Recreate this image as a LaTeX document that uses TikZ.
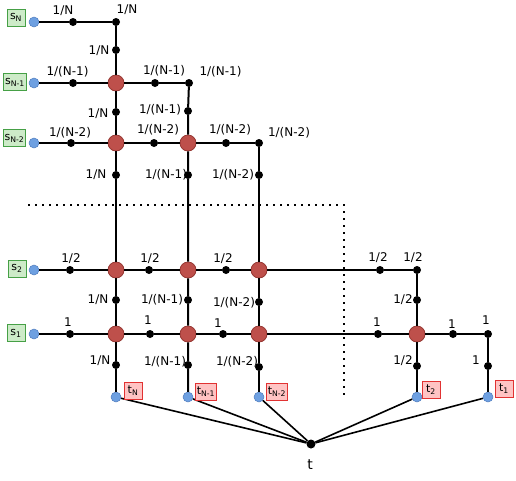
\documentclass[tikz,border=0pt]{standalone}
\usepackage{fontspec}
\setmainfont{DejaVu Sans}
\definecolor{nodered}{RGB}{190,80,75}
\definecolor{noderedb}{RGB}{150,55,50}
\definecolor{nodeblue}{RGB}{110,160,225}
\definecolor{nodeblueb}{RGB}{80,125,190}
\definecolor{gfill}{RGB}{205,235,200}
\definecolor{gdraw}{RGB}{70,160,70}
\definecolor{rfill}{RGB}{255,195,195}
\definecolor{rdraw}{RGB}{225,50,50}
\begin{document}
\begin{tikzpicture}[x=1pt,y=-1pt,
  blk/.style={circle,fill=black,inner sep=0pt,minimum size=8pt},
  rednode/.style={circle,fill=nodered,draw=noderedb,line width=0.8pt,inner sep=0pt,minimum size=16pt},
  blu/.style={circle,fill=nodeblue,draw=nodeblueb,line width=0.5pt,inner sep=0pt,minimum size=10pt},
  lab/.style={font=\fontsize{12}{12}\selectfont,inner sep=0pt},
  sbox/.style={draw=gdraw,fill=gfill,line width=0.9pt,inner sep=1.5pt,minimum height=17pt,minimum width=18pt,font=\fontsize{11}{11}\selectfont},
  tbox/.style={draw=rdraw,fill=rfill,line width=0.9pt,inner sep=1.5pt,minimum height=17pt,minimum width=18pt,font=\fontsize{11}{11}\selectfont},
  edge/.style={line width=2pt},
  tedge/.style={line width=1.6pt},
  dotline/.style={line width=1.8pt,dash pattern=on 1.8pt off 5.2pt}
]
\useasboundingbox (0,0) rectangle (516,480);

% sources
\node[blu] (sa) at (34,22) {};
\node[blu] (sb) at (34,83) {};
\node[blu] (sc) at (34,143) {};
\node[blu] (sd) at (34,270) {};
\node[blu] (se) at (34,334) {};
% targets
\node[blu] (tA) at (116,397) {};
\node[blu] (tB) at (188,397) {};
\node[blu] (tC) at (259,397) {};
\node[blu] (tD) at (417,397) {};
\node[blu] (tE) at (488,397) {};
% sink
\node[circle,fill=black,inner sep=0pt,minimum size=9pt] (t) at (311,444) {};
\node[font=\fontsize{14}{14}\selectfont,inner sep=0pt] (tl) at (310,465) {t};

% red nodes
\node[rednode] (Ab) at (116,83) {};
\node[rednode] (Ac) at (116,143) {};
\node[rednode] (Bc) at (188,143) {};
\node[rednode] (Ad) at (116,270) {};
\node[rednode] (Bd) at (188,270) {};
\node[rednode] (Cd) at (259,270) {};
\node[rednode] (Ae) at (116,334) {};
\node[rednode] (Be) at (188,334) {};
\node[rednode] (Ce) at (259,334) {};
\node[rednode] (De) at (417,334) {};
% corners
\node[blk] (Aa) at (116,22) {};
\node[blk] (Bb) at (189,83) {};
\node[blk] (Cc) at (259,143) {};
\node[blk] (Dd) at (417,270) {};
\node[blk] (Ee) at (488,334) {};
% horizontal dots
\node[blk] (ha1) at (73,22) {};
\node[blk] (hb1) at (73,83) {};
\node[blk] (hb2) at (155,83) {};
\node[blk] (hc1) at (71,143) {};
\node[blk] (hc2) at (154,143) {};
\node[blk] (hc3) at (226,143) {};
\node[blk] (hd1) at (70,270) {};
\node[blk] (hd2) at (149,270) {};
\node[blk] (hd3) at (226,270) {};
\node[blk] (hd4) at (380,270) {};
\node[blk] (he1) at (70,334) {};
\node[blk] (he2) at (150,334) {};
\node[blk] (he3) at (223,334) {};
\node[blk] (he4) at (378,334) {};
\node[blk] (he5) at (453,334) {};
% vertical dots
\node[blk] (vA1) at (116,50) {};
\node[blk] (vA2) at (116,112) {};
\node[blk] (vA3) at (116,175) {};
\node[blk] (vA4) at (116,300) {};
\node[blk] (vA5) at (116,365) {};
\node[blk] (vB1) at (188,111) {};
\node[blk] (vB2) at (188,175) {};
\node[blk] (vB3) at (188,300) {};
\node[blk] (vB4) at (188,365) {};
\node[blk] (vC1) at (259,175) {};
\node[blk] (vC2) at (259,302) {};
\node[blk] (vC3) at (259,367) {};
\node[blk] (vD1) at (417,300) {};
\node[blk] (vD2) at (417,366) {};
\node[blk] (vE1) at (488,366) {};

% edges
\draw[edge] (sa) -- (ha1) -- (Aa);
\draw[edge] (sb) -- (hb1) -- (Ab) -- (hb2) -- (Bb);
\draw[edge] (sc) -- (hc1) -- (Ac) -- (hc2) -- (Bc) -- (hc3) -- (Cc);
\draw[edge] (sd) -- (hd1) -- (Ad) -- (hd2) -- (Bd) -- (hd3) -- (Cd) -- (hd4) -- (Dd);
\draw[edge] (se) -- (he1) -- (Ae) -- (he2) -- (Be) -- (he3) -- (Ce) -- (he4) -- (De) -- (he5) -- (Ee);
\draw[edge] (Aa) -- (vA1) -- (Ab) -- (vA2) -- (Ac) -- (vA3) -- (Ad) -- (vA4) -- (Ae) -- (vA5) -- (tA);
\draw[edge] (Bb) -- (vB1) -- (Bc) -- (vB2) -- (Bd) -- (vB3) -- (Be) -- (vB4) -- (tB);
\draw[edge] (Cc) -- (vC1) -- (Cd) -- (vC2) -- (Ce) -- (vC3) -- (tC);
\draw[edge] (Dd) -- (vD1) -- (De) -- (vD2) -- (tD);
\draw[edge] (Ee) -- (vE1) -- (tE);
\foreach \n in {tA,tB,tC,tD,tE} \draw[tedge] (\n) -- (t);

% dotted boundary
\coordinate (d1) at (28,205);
\coordinate (d2) at (344,205);
\coordinate (d3) at (344,398);
\draw[dotline] (d1) -- (d2) -- (d3);

% source / target boxes
\node[sbox] (bsa) at (16,17.5) {s\textsubscript{N}};
\node[sbox] (bsb) at (15,82) {s\textsubscript{N-1}};
\node[sbox] (bsc) at (14.5,138) {s\textsubscript{N-2}};
\node[sbox] (bsd) at (17,268.5) {s\textsubscript{2}};
\node[sbox] (bse) at (16,333) {s\textsubscript{1}};
\node[tbox] (btA) at (133,391) {t\textsubscript{N}};
\node[tbox] (btB) at (206,392) {t\textsubscript{N-1}};
\node[tbox] (btC) at (277,391.5) {t\textsubscript{N-2}};
\node[tbox] (btD) at (431,389.5) {t\textsubscript{2}};
\node[tbox] (btE) at (504,389) {t\textsubscript{1}};

% labels
\node[lab] (l1) at (63,10.5) {1/N};
\node[lab] (l2) at (127,10) {1/N};
\node[lab] (l3) at (99,51) {1/N};
\node[lab] (l4) at (67.5,72) {1/(N-1)};
\node[lab] (l5) at (164,71) {1/(N-1)};
\node[lab] (l6) at (220.5,72) {1/(N-1)};
\node[lab] (l7) at (98,114) {1/N};
\node[lab] (l8) at (160,110) {1/(N-1)};
\node[lab] (l9) at (70,133) {1/(N-2)};
\node[lab] (l10) at (158,130) {1/(N-2)};
\node[lab] (l11) at (230,130) {1/(N-2)};
\node[lab] (l12) at (289,133) {1/(N-2)};
\node[lab] (l13) at (96,175) {1/N};
\node[lab] (l14) at (166,175) {1/(N-1)};
\node[lab] (l15) at (233,175) {1/(N-2)};
\node[lab] (l16) at (71,259) {1/2};
\node[lab] (l17) at (150,259) {1/2};
\node[lab] (l18) at (223,259) {1/2};
\node[lab] (l19) at (378,258) {1/2};
\node[lab] (l20) at (413,258) {1/2};
\node[lab] (l21) at (98,300) {1/N};
\node[lab] (l22) at (162,300) {1/(N-1)};
\node[lab] (l23) at (234,303) {1/(N-2)};
\node[lab] (l24) at (403,300) {1/2};
\node[lab] (l25) at (68,322) {1};
\node[lab] (l26) at (148,320) {1};
\node[lab] (l27) at (218,323) {1};
\node[lab] (l28) at (377,322) {1};
\node[lab] (l29) at (452,324) {1};
\node[lab] (l30) at (486,320) {1};
\node[lab] (l31) at (100,361) {1/N};
\node[lab] (l32) at (165,362) {1/(N-1)};
\node[lab] (l33) at (237,362) {1/(N-2)};
\node[lab] (l34) at (403,361) {1/2};
\node[lab] (l35) at (476,360) {1};
\end{tikzpicture}
\end{document}
